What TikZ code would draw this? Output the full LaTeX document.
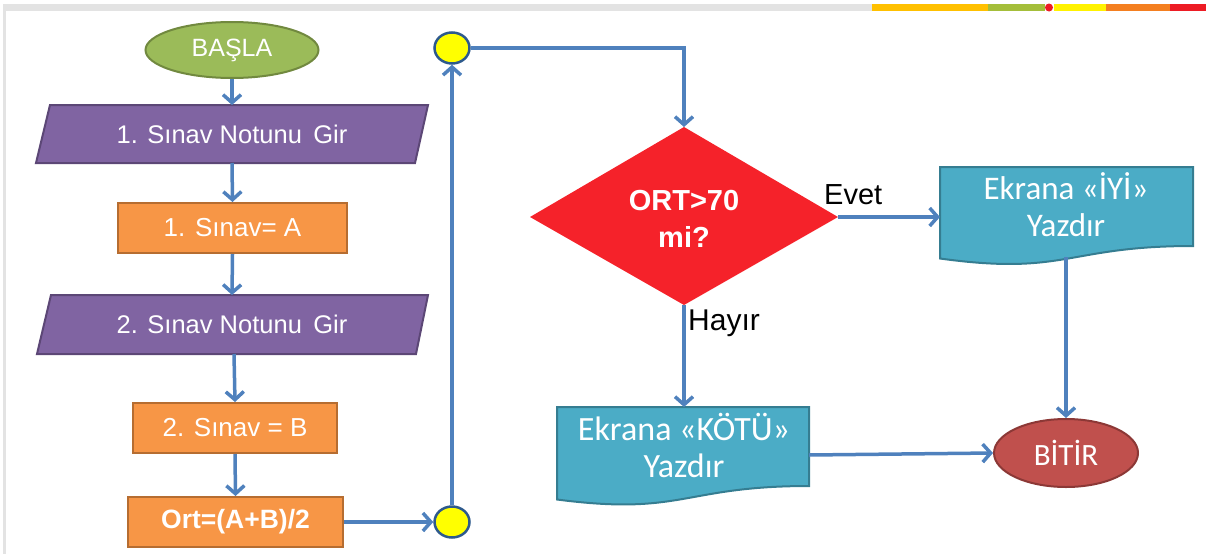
\documentclass[tikz,border=0pt]{standalone}
\usepackage{fontspec}
\setmainfont{Liberation Sans}
\newfontfamily\calib{Carlito}
\usetikzlibrary{arrows.meta,shapes.geometric}
\definecolor{flowblue}{HTML}{4F81BD}
\definecolor{gfill}{HTML}{9BBB59}\definecolor{gdraw}{HTML}{71893F}
\definecolor{pfill}{HTML}{8064A2}\definecolor{pdraw}{HTML}{5C4776}
\definecolor{ofill}{HTML}{F79646}\definecolor{odraw}{HTML}{B66D31}
\definecolor{cfill}{HTML}{4BACC6}\definecolor{cdraw}{HTML}{357D91}
\definecolor{rfill}{HTML}{C0504D}\definecolor{rdraw}{HTML}{8C3836}
\definecolor{dfill}{HTML}{F5222A}
\definecolor{yfill}{HTML}{FFFF00}\definecolor{ydraw}{HTML}{2E5A8C}
\definecolor{barA}{HTML}{FFC000}
\definecolor{barB}{HTML}{A4BE3A}
\definecolor{barC}{HTML}{ED1C24}
\definecolor{barD}{HTML}{FFF200}
\definecolor{barE}{HTML}{F47F20}
\tikzset{
  conn/.style={draw=flowblue,line width=3.5pt,-{Straight Barb[length=8pt,width=18pt,line width=3.5pt]}},
  procbox/.style={rectangle,fill=ofill,draw=odraw,line width=2pt,text=white,inner sep=0pt,font=\fontsize{26}{30}\selectfont},
  iobox/.style={draw=pdraw,fill=pfill,line width=2pt},
  docbox/.style={draw=cdraw,fill=cfill,line width=2pt},
  wtext/.style={text=white,inner sep=0pt},
  lbl/.style={text=black,inner sep=0pt},
  conncirc/.style={ellipse,fill=yfill,draw=ydraw,line width=2.5pt,minimum width=35pt,minimum height=31pt,inner sep=0pt}
}
\begin{document}
\begin{tikzpicture}[x=1pt,y=-1pt]
\useasboundingbox (0,0) rectangle (1206,554);
% decorative frame
\fill[gray!22] (5,4) rectangle (872,11);
\fill[gray!22] (3,4) rectangle (6,554);
\fill[barA] (872,4) rectangle (988,11);
\fill[barB] (988,4) rectangle (1045,11);
\fill[barC] (1049,7.5) circle (4);
\fill[barD] (1054,4) rectangle (1106,11);
\fill[barE] (1106,4) rectangle (1170,11);
\fill[barC] (1170,4) rectangle (1206,11);

% start
\node[ellipse,fill=gfill,draw=gdraw,line width=2pt,minimum width=173pt,minimum height=56pt,text=white,font=\fontsize{25}{28}\selectfont] (start) at (232,50) {BAŞLA};

% input 1
\path[iobox] (50,105) -- (428,105) -- (415,163) -- (36,163) -- cycle;
\node[wtext,font=\fontsize{25.5}{28}\selectfont] (in1) at (232,134) {1. Sınav Notunu\, Gir};
\coordinate (in1t) at (232,105);
\coordinate (in1b) at (232,163);

% proc 1
\node[procbox,minimum width=229pt,minimum height=50pt] (p1) at (232.5,228) {1. Sınav= A};

% input 2
\path[iobox] (51,295) -- (428,295) -- (416,354) -- (37,354) -- cycle;
\node[wtext,font=\fontsize{25.5}{28}\selectfont] (in2) at (232,324) {2. Sınav Notunu\, Gir};
\coordinate (in2t) at (232,295);
\coordinate (in2b) at (234,354);

% proc 2
\node[procbox,minimum width=204pt,minimum height=50pt] (p2) at (235,428) {2. Sınav = B};

% ort
\node[procbox,minimum width=215pt,minimum height=50pt,font=\bfseries\fontsize{26.5}{30}\selectfont] (ort) at (235.5,522) {Ort=(A+B)/2};

% connectors circles
\node[conncirc] (c1) at (452,522) {};
\node[conncirc] (c2) at (452,48) {};

% diamond
\path[fill=dfill] (684,127) -- (838,217) -- (684,305) -- (530,217) -- cycle;
\node[wtext,align=center,font=\bfseries\fontsize{29}{37}\selectfont] (dec) at (684,219) {ORT>70\\mi?};
\coordinate (dect) at (684,127);
\coordinate (decr) at (838,217);
\coordinate (decb) at (684,305);

% IYI document
\path[docbox] (940,167) -- (1193,167) -- (1193,246) .. controls (1066.5,246) and (1066.5,276) .. (940,258.5) -- cycle;
\node[wtext,align=center,font=\calib\fontsize{33}{37}\selectfont] (iyi) at (1066,205) {Ekrana «İYİ»\\Yazdır};
\coordinate (iyil) at (940,217);
\coordinate (iyib) at (1066,257);

% KOTU document
\path[docbox] (557,407) -- (809,407) -- (809,486) .. controls (683,486) and (683,516) .. (557,499.5) -- cycle;
\node[wtext,align=center,font=\calib\fontsize{34}{37}\selectfont] (kotu) at (684,445) {Ekrana «KÖTÜ»\\Yazdır};
\coordinate (kotut) at (684,407);
\coordinate (kotur) at (809,455);

% end
\node[ellipse,fill=rfill,draw=rdraw,line width=2pt,minimum width=144pt,minimum height=68pt,text=white,font=\calib\fontsize{31}{34}\selectfont] (end) at (1066,453) {BİTİR};

% labels
\node[lbl,anchor=west,font=\fontsize{29}{32}\selectfont] (evet) at (824,195) {Evet};
\node[lbl,anchor=west,font=\fontsize{30}{32}\selectfont] (hayir) at (688,323) {Hayır};

% arrows
\draw[conn] (start.south) -- (in1t);
\draw[conn] (in1b) -- (p1.north);
\draw[conn] (p1.south) -- (in2t);
\draw[conn] (in2b) -- (p2.north);
\draw[conn] (p2.south) -- (ort.north);
\draw[conn] (ort.east) -- (c1.west);
\draw[conn] (c1.north) -- (c2.south);
\draw[conn] (c2.east) -| (dect);
\draw[conn] (decr) -- (iyil);
\draw[conn] (decb) -- (kotut);
\draw[conn] (iyib) -- (end.north);
\draw[conn] (kotur) -- (end.west);
\end{tikzpicture}
\end{document}
